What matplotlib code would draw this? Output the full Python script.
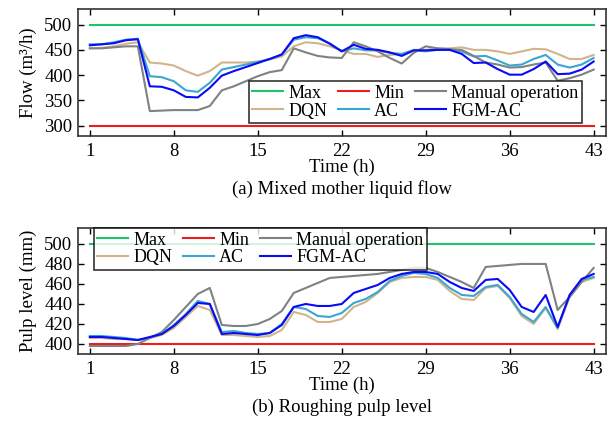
import numpy as np
import matplotlib
matplotlib.use("Agg")
import matplotlib.pyplot as plt

plt.rcParams["font.family"] = ["Liberation Serif", "DejaVu Serif"]
plt.rcParams["font.size"] = 13.5

hours = np.arange(1, 44)

# (a) Mixed mother liquid flow (m3/h)
FLOW_MAX, FLOW_MIN = 500, 300
flow_manual = [453, 453, 455, 457, 457, 329, 330, 331, 331, 331, 339, 370, 378, 388, 398,
               406, 410, 453, 445, 438, 435, 434, 465, 457, 447, 434, 423, 444, 457, 453,
               451, 450, 438, 425, 421, 415, 416, 421, 425, 389, 394, 401, 411]
flow_dqn = [453, 454, 457, 462, 465, 425, 423, 419, 408, 399, 408, 425, 425, 425, 427,
            431, 437, 457, 465, 463, 457, 449, 442, 442, 436, 440, 442, 450, 450, 453,
            453, 455, 450, 450, 447, 442, 447, 452, 451, 442, 432, 432, 440]
flow_ac = [461, 461, 465, 470, 472, 398, 396, 388, 370, 367, 385, 411, 416, 421, 426,
           432, 440, 470, 475, 473, 463, 447, 453, 449, 449, 444, 442, 449, 447, 450,
           451, 447, 437, 438, 429, 419, 421, 432, 440, 421, 415, 421, 434]
flow_fgm = [459, 461, 463, 469, 471, 378, 377, 370, 357, 356, 375, 399, 408, 416, 424,
            432, 441, 473, 479, 475, 462, 447, 460, 452, 450, 445, 438, 449, 449, 450,
            450, 442, 424, 425, 412, 401, 401, 412, 427, 402, 403, 411, 427]

# (b) Roughing pulp level (mm)
LEVEL_MAX, LEVEL_MIN = 500, 400
level_manual = [398, 398, 398, 398, 400, 406, 412, 424, 437, 450, 456, 419, 418, 418, 420,
                425, 433, 451, 456, 461, 466, 467, 468, 469, 470, 472, 474, 476, 476, 472,
                467, 462, 456, 477, 478, 479, 480, 480, 480, 434, 447, 462, 476]
level_dqn = [406, 406, 405, 405, 404, 406, 409, 416, 427, 438, 434, 409, 409, 408, 407,
             408, 414, 432, 429, 422, 422, 425, 437, 442, 451, 462, 466, 467, 467, 464,
             453, 445, 444, 456, 458, 446, 428, 420, 436, 415, 447, 462, 466]
level_ac = [408, 408, 407, 406, 404, 406, 410, 419, 430, 443, 440, 412, 413, 411, 410,
            411, 420, 437, 435, 428, 427, 431, 441, 445, 452, 463, 468, 471, 470, 466,
            456, 449, 448, 457, 459, 447, 430, 422, 437, 416, 449, 464, 467]
level_fgm = [407, 407, 406, 405, 404, 407, 410, 418, 429, 441, 440, 410, 411, 410, 409,
             411, 419, 437, 440, 438, 438, 440, 451, 455, 459, 466, 470, 472, 472, 470,
             462, 456, 453, 464, 465, 454, 437, 432, 449, 417, 449, 465, 470]

XTICKS = [1, 8, 15, 22, 29, 36, 43]

C_MAX = "#1ec46a"
C_MIN = "#ee1c1c"
C_MAN = "#7f8282"
C_DQN = "#d2b48c"
C_AC = "#3ba6d3"
C_FGM = "#0a0af5"


def style_axes(ax):
    ax.set_xlim(0, 44)
    ax.set_xticks(XTICKS)
    ax.tick_params(direction="in", top=True, right=True, length=4, width=1)
    ax.tick_params(axis="x", pad=5)
    ax.tick_params(axis="y", pad=4)
    for s in ax.spines.values():
        s.set_linewidth(1.2)
        s.set_color("#333333")
    ax.set_xlabel("Time (h)", labelpad=-1)


def draw(ax, lo, hi, man, dqn, ac, fgm):
    n = len(hours)
    ax.plot(hours, [hi] * n, color=C_MAX, lw=1.5, label="Max")
    ax.plot(hours, dqn, color=C_DQN, lw=1.5, label="DQN")
    ax.plot(hours, [lo] * n, color=C_MIN, lw=1.5, label="Min")
    ax.plot(hours, ac, color=C_AC, lw=1.5, label="AC")
    ax.plot(hours, man, color=C_MAN, lw=1.5, label="Manual operation")
    ax.plot(hours, fgm, color=C_FGM, lw=1.5, label="FGM-AC")


def add_legend(ax, **kw):
    leg = ax.legend(ncol=3, frameon=True, fancybox=False, edgecolor="black",
                    fontsize=13, borderpad=0.2, labelspacing=0.05, handlelength=1.7,
                    handletextpad=0.3, columnspacing=0.6, borderaxespad=0, **kw)
    leg.get_frame().set_linewidth(1.2)


fig = plt.figure(figsize=(6.13, 4.26), dpi=100)
ax1 = fig.add_axes([0.127, 0.681, 0.861, 0.297])
ax2 = fig.add_axes([0.127, 0.169, 0.861, 0.296])

# top panel
draw(ax1, FLOW_MIN, FLOW_MAX, flow_manual, flow_dqn, flow_ac, flow_fgm)
style_axes(ax1)
ax1.set_ylim(280, 530)
ax1.set_yticks([300, 350, 400, 450, 500])
ax1.set_ylabel("Flow (m³/h)", labelpad=5)
add_legend(ax1, loc="lower right", bbox_to_anchor=(0.955, 0.1))

# bottom panel
draw(ax2, LEVEL_MIN, LEVEL_MAX, level_manual, level_dqn, level_ac, level_fgm)
style_axes(ax2)
ax2.set_ylim(390, 516)
ax2.set_yticks([400, 420, 440, 460, 480, 500])
ax2.set_ylabel("Pulp level (mm)", labelpad=5)
add_legend(ax2, loc="upper left", bbox_to_anchor=(0.03, 1.0))

fig.text(0.558, 1 - 189 / 426, "(a) Mixed mother liquid flow", ha="center", va="center")
fig.text(0.558, 1 - 407 / 426, "(b) Roughing pulp level", ha="center", va="center")

fig.savefig("out.png", dpi=100)
